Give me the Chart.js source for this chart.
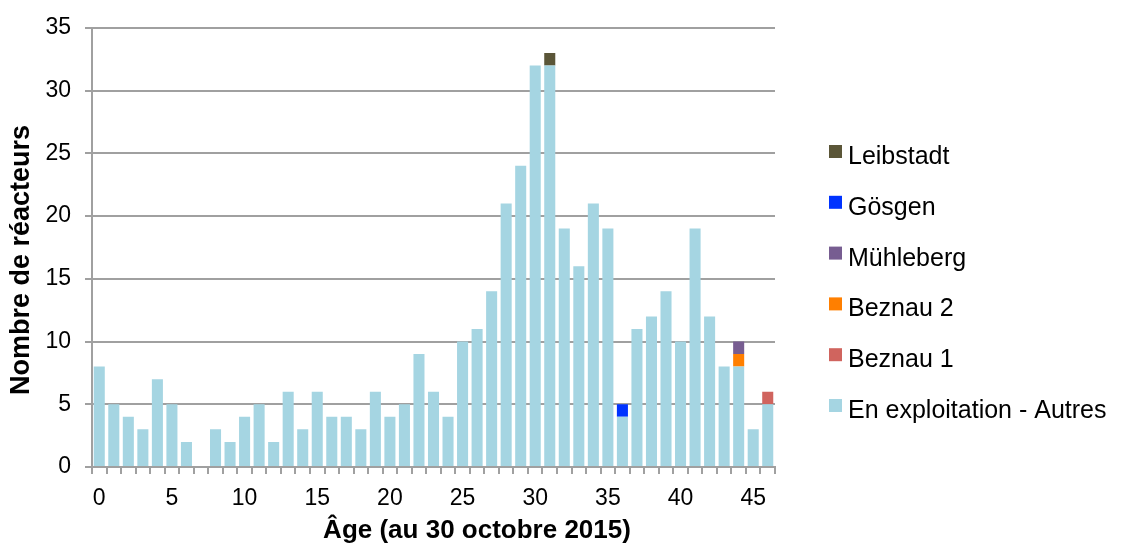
<!DOCTYPE html>
<html>
<head>
<meta charset="utf-8">
<script src="https://cdn.jsdelivr.net/npm/chart.js@4.4.1/dist/chart.umd.min.js"></script>
<style>
html,body{margin:0;padding:0;background:#fff;}
#wrap{width:1125px;height:554px;position:relative;}
</style>
</head>
<body>
<div id="wrap"><canvas id="c" width="1125" height="554"></canvas></div>
<script>
const ages = [];
for (let i = 0; i <= 46; i++) ages.push(String(i));

const autres    = [8,5,4,3,7,5,2,0,3,2,4,5,2,6,3,6,4,4,3,6,4,5,9,6,4,10,11,14,21,24,32,32,19,16,21,19,4,11,12,14,10,19,12,8,8,3,5];
const beznau1   = [0,0,0,0,0,0,0,0,0,0,0,0,0,0,0,0,0,0,0,0,0,0,0,0,0,0,0,0,0,0,0,0,0,0,0,0,0,0,0,0,0,0,0,0,0,0,1];
const beznau2   = [0,0,0,0,0,0,0,0,0,0,0,0,0,0,0,0,0,0,0,0,0,0,0,0,0,0,0,0,0,0,0,0,0,0,0,0,0,0,0,0,0,0,0,0,1,0,0];
const muhleberg = [0,0,0,0,0,0,0,0,0,0,0,0,0,0,0,0,0,0,0,0,0,0,0,0,0,0,0,0,0,0,0,0,0,0,0,0,0,0,0,0,0,0,0,0,1,0,0];
const gosgen    = [0,0,0,0,0,0,0,0,0,0,0,0,0,0,0,0,0,0,0,0,0,0,0,0,0,0,0,0,0,0,0,0,0,0,0,0,1,0,0,0,0,0,0,0,0,0,0];
const leibstadt = [0,0,0,0,0,0,0,0,0,0,0,0,0,0,0,0,0,0,0,0,0,0,0,0,0,0,0,0,0,0,0,1,0,0,0,0,0,0,0,0,0,0,0,0,0,0,0];
const yTicks = [0,5,10,15,20,25,30,35];
const xTitle = 'Âge (au 30 octobre 2015)';
const yTitle = 'Nombre de réacteurs';

const FONT = "'Liberation Sans', Arial, sans-serif";
const ds = (label, data, color) => ({
  label, data, backgroundColor: color, borderWidth: 0,
  barPercentage: 0.76, categoryPercentage: 1.0
});

// Custom legend + axis titles drawn from chart data
const decor = {
  id: 'decor',
  afterDraw(chart) {
    const ctx = chart.ctx;
    ctx.save();
    const items = chart.data.datasets.slice().reverse();
    ctx.font = '25px ' + FONT;
    ctx.textBaseline = 'alphabetic';
    ctx.textAlign = 'left';
    items.forEach((d, i) => {
      const top = 145 + i * 50.8;
      ctx.fillStyle = d.backgroundColor;
      ctx.fillRect(829, top, 13, 13);
      ctx.fillStyle = '#000';
      ctx.fillText(d.label, 848, top + 19);
    });
    ctx.fillStyle = '#000';
    ctx.font = 'bold 26px ' + FONT;
    ctx.textAlign = 'center';
    ctx.textBaseline = 'middle';
    ctx.fillText(xTitle, 477, 531);
    ctx.translate(22, 260);
    ctx.rotate(-Math.PI / 2);
    ctx.font = 'bold 27px ' + FONT;
    ctx.fillText(yTitle, 0, 0);
    ctx.restore();
  }
};

new Chart(document.getElementById('c'), {
  type: 'bar',
  data: {
    labels: ages,
    datasets: [
      ds('En exploitation - Autres', autres, '#A5D5E2'),
      ds('Beznau 1', beznau1, '#D0645E'),
      ds('Beznau 2', beznau2, '#FF7F00'),
      ds('Mühleberg', muhleberg, '#775D91'),
      ds('Gösgen', gosgen, '#0033FF'),
      ds('Leibstadt', leibstadt, '#5B5638')
    ]
  },
  plugins: [decor],
  options: {
    responsive: false,
    animation: false,
    layout: { padding: { left: 0, right: 350, top: 27, bottom: 0 } },
    plugins: {
      tooltip: { enabled: false },
      legend: { display: false }
    },
    scales: {
      x: {
        stacked: true,
        afterFit: (s) => { s.height = 87; },
        border: { display: true, color: '#A0A0A0', width: 2 },
        grid: { display: true, drawOnChartArea: false, drawTicks: true, tickLength: 7, color: '#A0A0A0', lineWidth: 2, offset: true },
        ticks: {
          autoSkip: false, maxRotation: 0, minRotation: 0, color: '#000', padding: 11,
          font: { family: FONT, size: 23 },
          callback: function(v, i) { return (i % 5 === 0) ? ages[i] : ''; }
        },
        title: { display: false }
      },
      y: {
        stacked: true,
        min: 0, max: 35,
        afterFit: (s) => { s.width = 92; },
        afterBuildTicks: (axis) => { axis.ticks = yTicks.map(v => ({ value: v })); },
        border: { display: true, color: '#A0A0A0', width: 2 },
        grid: { color: '#A0A0A0', lineWidth: 2, tickLength: 7, drawTicks: true },
        ticks: { color: '#000', padding: 14, font: { family: FONT, size: 23 } },
        title: { display: false }
      }
    }
  }
});
</script>
</body>
</html>
